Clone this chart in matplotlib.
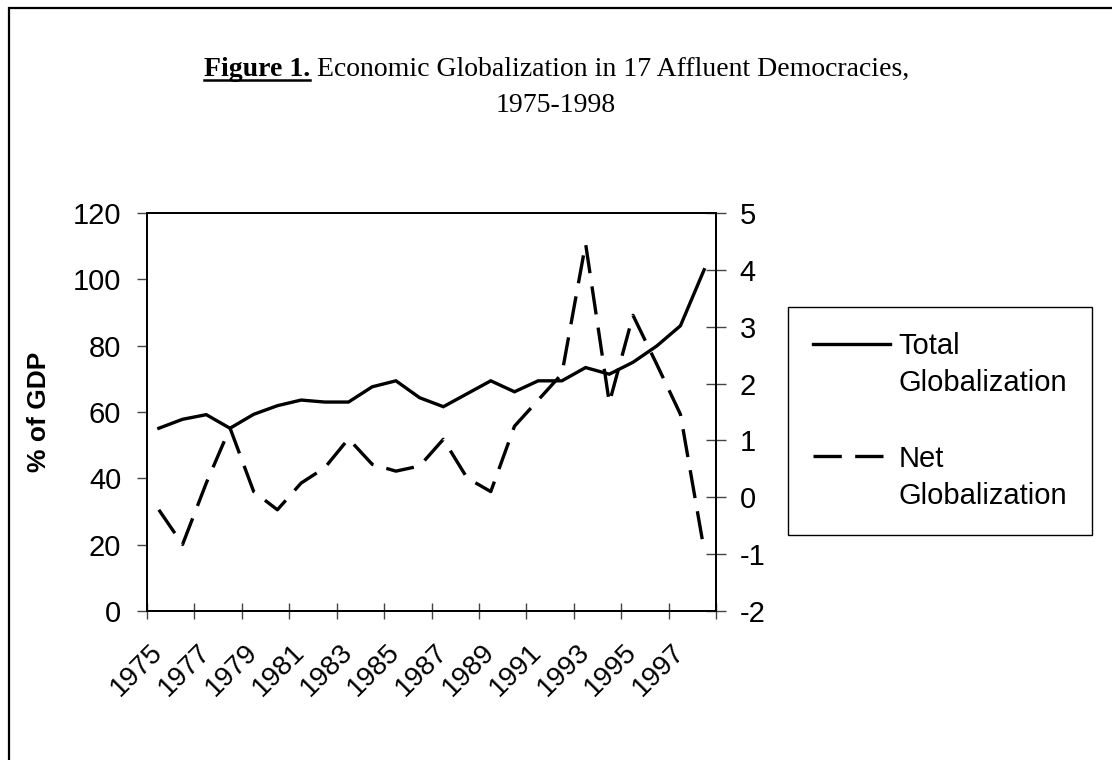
import numpy as np
import matplotlib
matplotlib.use('Agg')
import matplotlib.pyplot as plt
from matplotlib.lines import Line2D
from matplotlib.patches import Rectangle

years = [str(y) for y in range(1975, 1999)]
total_glob = [55.1, 57.8, 59.2, 55.1, 59.3, 61.9, 63.6, 63.0, 63.0, 67.6, 69.4, 64.3,
              61.6, 65.5, 69.4, 66.1, 69.4, 69.4, 73.4, 71.4, 75.0, 79.9, 86.0, 102.9]
net_glob = [-0.22, -0.83, 0.25, 1.22, 0.10, -0.22, 0.25, 0.52, 1.03, 0.58, 0.46, 0.55,
            1.02, 0.34, 0.10, 1.25, 1.71, 2.17, 4.46, 1.66, 3.20, 2.34, 1.46, -0.93]
left_ticks = [0, 20, 40, 60, 80, 100, 120]
right_ticks = [-2, -1, 0, 1, 2, 3, 4, 5]

plt.rcParams['font.family'] = ['Liberation Sans', 'DejaVu Sans']
plt.rcParams['axes.unicode_minus'] = False

W, H = 1112, 760
fig = plt.figure(figsize=(W / 100, H / 100), dpi=100)

# outer frame, runs off the right and bottom edges
fig.patches.append(Rectangle((9 / W, -0.1), 1.2, 1 - 8 / H + 0.1, transform=fig.transFigure,
                             fill=False, edgecolor='black', lw=1.6))

ax = fig.add_axes([147 / W, 1 - 611 / H, 569 / W, 398 / H])
ax2 = ax.twinx()

x = np.arange(len(years))
l1, = ax.plot(x, total_glob, color='black', lw=2.4, solid_joinstyle='miter')
l2, = ax2.plot(x, net_glob, color='black', lw=2.4, dashes=(8.5, 4))

ax.set_xlim(-0.5, len(years) - 0.5)
ax.set_ylim(0, 120)
ax2.set_ylim(-2, 5)

ax.set_xticks(np.arange(-0.5, len(years), 2))
ax.set_xticklabels([])
ax.set_xticks(x[::2], years[::2], minor=True)
ax.tick_params(axis='x', which='major', direction='inout', length=11.5, width=1, color='#444')
ax.tick_params(axis='x', which='minor', length=0, pad=27, labelsize=20)
for lab in ax.get_xticklabels(minor=True):
    lab.set_rotation(45)
    lab.set_ha('right')
    lab.set_va('center')
    lab.set_rotation_mode('anchor')

ax.set_yticks(left_ticks)
ax.tick_params(axis='y', direction='out', length=7.5, width=1, color='#444', pad=11, labelsize=21)
ax2.set_yticks(right_ticks)
ax2.tick_params(axis='y', direction='inout', length=14, width=1, color='#444', pad=10, labelsize=21)

for a in (ax, ax2):
    for s in a.spines.values():
        s.set_linewidth(1.3)
        s.set_color('black')

ax.set_ylabel('% of GDP', fontsize=19, fontweight='bold', labelpad=16)

# legend: handle sits on the first line of each two-line label
blank = Line2D([], [], color='none')
leg = fig.legend([l1, blank, blank, l2, blank],
                 ['Total', 'Globalization', ' ', 'Net', 'Globalization'],
                 loc='upper left', bbox_to_anchor=(788 / W, 1 - 307 / H),
                 frameon=True, fancybox=False, edgecolor='black', framealpha=1,
                 fontsize=21, handlelength=2.65, handletextpad=0.28, labelspacing=0.33,
                 borderpad=0.85, borderaxespad=0)
leg.get_frame().set_linewidth(1.0)

# title: bold underlined "Figure 1." followed by regular text
serif = ['Liberation Serif', 'DejaVu Serif']
tsize = 20
fig.canvas.draw()
r = fig.canvas.get_renderer()
t1 = fig.text(0, 0, 'Figure 1.', fontsize=tsize, fontweight='bold', family=serif)
t2 = fig.text(0, 0, ' Economic Globalization in 17 Affluent Democracies,', fontsize=tsize, family=serif)
w1 = t1.get_window_extent(r).width
w2 = t2.get_window_extent(r).width
x0 = 556.5 - (w1 + w2) / 2
base1 = H - 76
t1.set_position((x0 / W, base1 / H))
t2.set_position(((x0 + w1) / W, base1 / H))
t1.set_va('baseline')
t2.set_va('baseline')
fig.add_artist(Line2D([x0 / W, (x0 + w1) / W], [(base1 - 4) / H, (base1 - 4) / H],
                      transform=fig.transFigure, color='black', lw=1.8))
fig.text(556 / W, (H - 112) / H, '1975-1998', fontsize=tsize, family=serif,
         ha='center', va='baseline')

fig.savefig('out.png', dpi=100)
